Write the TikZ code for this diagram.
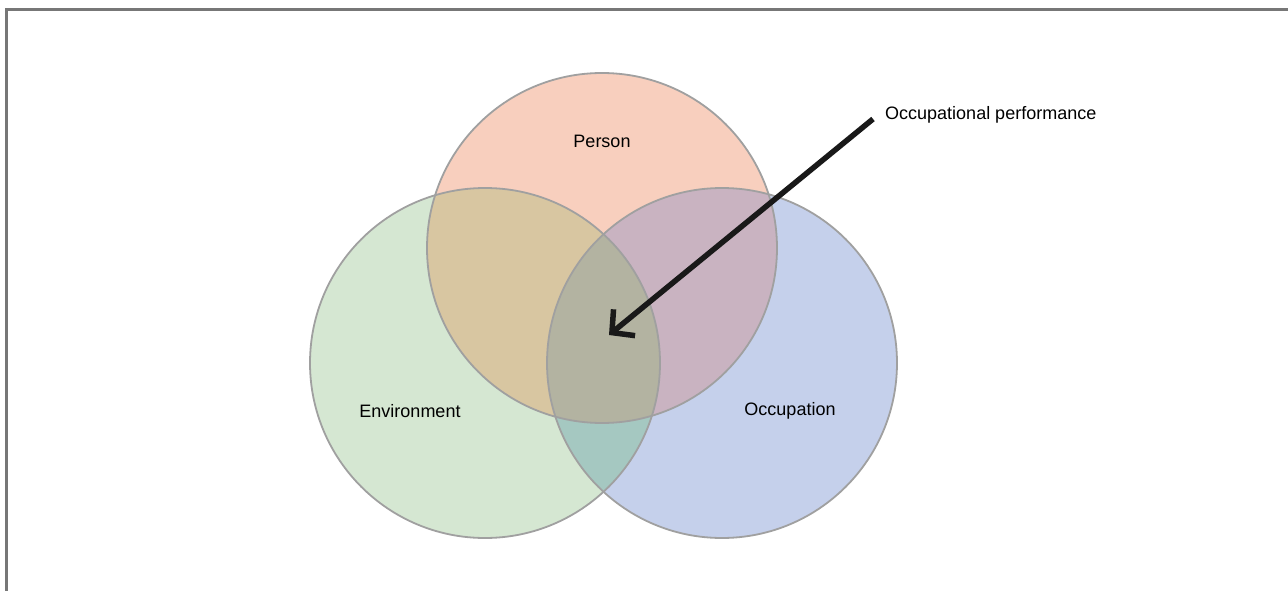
\documentclass[tikz,border=0pt]{standalone}
\usepackage{fontspec}
\setmainfont{Liberation Sans}
\usetikzlibrary{arrows.meta}
\definecolor{personc}{HTML}{F8CFBE}
\definecolor{envc}{HTML}{D5E7D2}
\definecolor{occc}{HTML}{C5D0EB}
\definecolor{pec}{HTML}{D8C6A1}
\definecolor{poc}{HTML}{C9B3C1}
\definecolor{eoc}{HTML}{A5C8C1}
\definecolor{allc}{HTML}{B3B3A1}
\definecolor{rimc}{HTML}{A0A0A0}
\definecolor{framec}{HTML}{777777}
\tikzset{
  rim/.style={draw=rimc, line width=1.8pt},
  lbl/.style={font=\fontsize{18}{22}\selectfont, text=black, inner sep=0pt},
  pointer/.style={line width=5.5pt, draw=black!90, -{Straight Barb[length=16pt,width=34pt,line width=5.5pt]}}
}
\begin{document}
\begin{tikzpicture}[x=1pt,y=-1pt]
\useasboundingbox (0,0) rectangle (1288,591);
% outer frame (top and left edges)
\draw[framec, line width=2.4pt] (6.5,591) -- (6.5,9.5) -- (1288,9.5);
% base discs
\def\rad{175}
\fill[personc] (602,248) circle (\rad);
\fill[envc] (485,363) circle (\rad);
\fill[occc] (722,363) circle (\rad);
% pairwise overlaps
\begin{scope}
  \clip (602,248) circle (\rad);
  \fill[pec] (485,363) circle (\rad);
  \fill[poc] (722,363) circle (\rad);
\end{scope}
\begin{scope}
  \clip (485,363) circle (\rad);
  \fill[eoc] (722,363) circle (\rad);
\end{scope}
% triple overlap
\begin{scope}
  \clip (602,248) circle (\rad);
  \clip (485,363) circle (\rad);
  \fill[allc] (722,363) circle (\rad);
\end{scope}
% outlines
\draw[rim] (602,248) circle (\rad);
\draw[rim] (485,363) circle (\rad);
\draw[rim] (722,363) circle (\rad);
% labels
\node[lbl] (person) at (602,141) {Person};
\node[lbl] (env) at (410,411) {Environment};
\node[lbl] (occ) at (790,411) {Occupation};
\node[lbl, anchor=west] (perf) at (885,115) {Occupational performance};
\coordinate (core) at (609,335);
\coordinate (tail) at (873,119);
\draw[pointer] (tail) -- (core);
\end{tikzpicture}
\end{document}
